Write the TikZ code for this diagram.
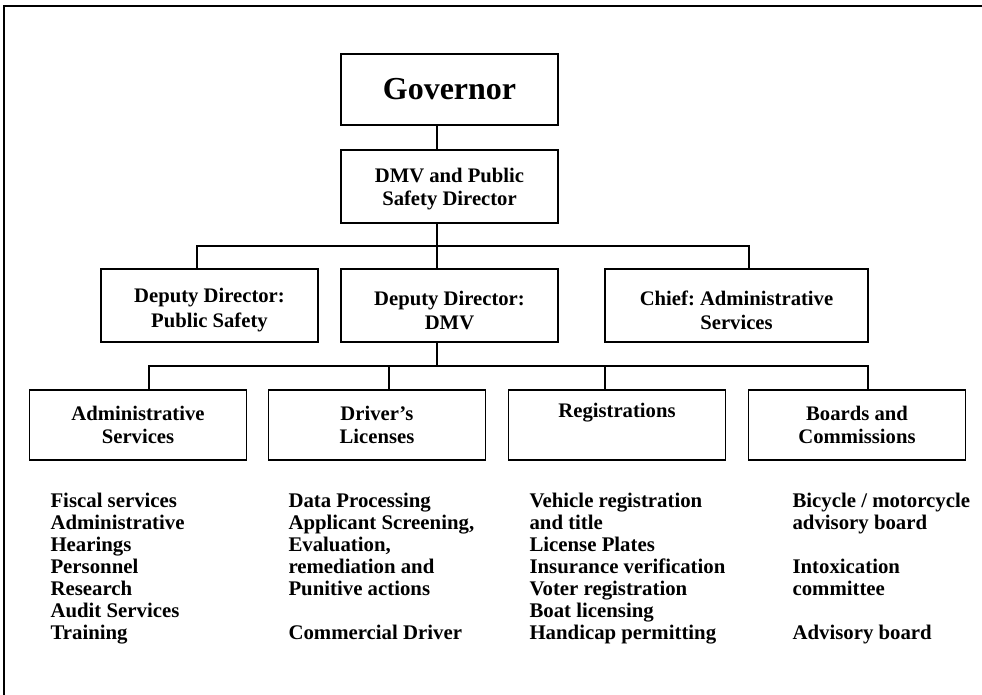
\documentclass[tikz,border=0pt]{standalone}
\usepackage{fontspec}
\setmainfont{Liberation Serif}
\frenchspacing
\newcommand{\topgap}[1]{\rule{0pt}{#1}}
\begin{document}
\begin{tikzpicture}[x=0.75pt,y=-0.75pt,line width=0.8pt,
  every node/.style={inner sep=0pt,font=\bfseries\fontsize{15.5}{17.3}\selectfont},
  box/.style={draw,line width=1.3pt,minimum width=162.75pt,minimum height=54.75pt,align=center},
  midbox/.style={box,font=\bfseries\fontsize{15.5}{18.5}\selectfont},
  lowbox/.style={box,minimum height=52.5pt},
  list/.style={anchor=north west,align=left,font=\bfseries\fontsize{15.6}{16.5}\selectfont}]
\useasboundingbox (0,0) rectangle (982,695);
\draw[line width=1.4pt] (4,695) -- (4,6) -- (982,6);
\node[box,minimum height=53.25pt,font=\bfseries\fontsize{24}{28}\selectfont] (e0) at (449.5,89.5) {Governor};
\node[box] (e1) at (449.5,186.5) {\topgap{15pt}DMV and Public\\Safety Director};
\node[midbox] (e10) at (209.5,305.5) {\topgap{18pt}Deputy Director:\\Public Safety};
\node[midbox] (e11) at (449.5,305.5) {\topgap{18pt}Deputy Director:\\DMV};
\node[midbox,minimum width=197.25pt] (e12) at (736.5,305.5) {\topgap{18pt}Chief: Administrative\\Services};
\node[lowbox] (e20) at (138,425) {Administrative\\Services};
\node[lowbox] (e21) at (377,425) {Driver's\\Licenses};
\node[lowbox] (e22) at (617,425) {Registrations\\\strut};
\node[lowbox] (e23) at (857,425) {Boards and\\Commissions};
\node[list] (l20) at (50,493) {Fiscal services\\Administrative\\Hearings\\Personnel\\Research\\Audit Services\\Training};
\node[list] (l21) at (288,493) {Data Processing\\Applicant Screening,\\Evaluation,\\remediation and\\Punitive actions\\\strut\\Commercial Driver};
\node[list] (l22) at (529,493) {Vehicle registration\\and title\\License Plates\\Insurance verification\\Voter registration\\Boat licensing\\Handicap permitting};
\node[list] (l23) at (792,493) {Bicycle / motorcycle\\advisory board\\\strut\\Intoxication\\committee\\\strut\\Advisory board};
\coordinate (s0) at (437,246);
\coordinate (s1) at (197,246);
\coordinate (s2) at (749,246);
\coordinate (t0) at (437,366);
\coordinate (t1) at (149,366);
\coordinate (t2) at (389,366);
\coordinate (t3) at (605,366);
\coordinate (t4) at (868,366);
\draw (e0.south -| s0) -- (e1.north -| s0);
\draw (e1.south -| s0) -- (s0);
\draw (e10.north -| s1) -- (s1) -- (s2) -- (e12.north -| s2);
\draw (s0) -- (e11.north -| s0);
\draw (e11.south -| t0) -- (t0);
\draw (e20.north -| t1) -- (t1) -- (t4) -- (e23.north -| t4);
\draw (t2) -- (e21.north -| t2);
\draw (t3) -- (e22.north -| t3);
\end{tikzpicture}
\end{document}
